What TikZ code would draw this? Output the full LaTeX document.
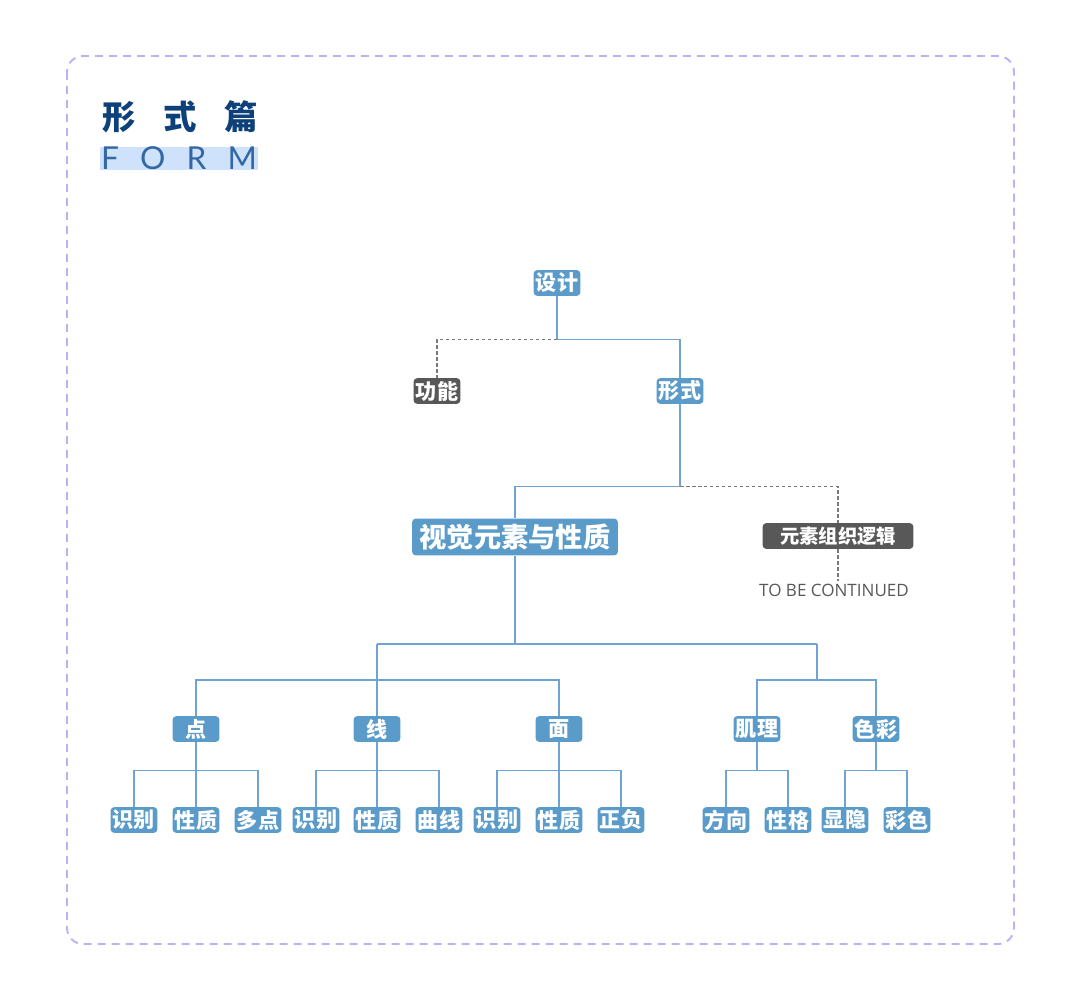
\documentclass[tikz,border=0pt]{standalone}
\usepackage{fontspec}
\newfontfamily\cjk{Noto Sans CJK SC}
\newfontfamily\lat{Open Sans}
\newfontfamily\form{Lato}
\definecolor{knoten}{RGB}{91,155,201}
\definecolor{linie}{RGB}{111,163,212}
\definecolor{grau}{RGB}{88,88,88}
\definecolor{rahmen}{RGB}{186,178,246}
\definecolor{titel}{RGB}{14,64,122}
\definecolor{formbg}{RGB}{207,226,251}
\definecolor{formtxt}{RGB}{52,104,164}
\tikzset{
	blau/.style={fill=knoten,rounded corners=0.08cm,text=white,font=\cjk\bfseries\fontsize{12}{12}\selectfont,inner sep=0pt,minimum width=0.94cm,minimum height=0.52cm},
	dunkel/.style={blau,fill=grau},
	ast/.style={draw=linie,line width=0.6pt},
	strich/.style={draw=grau!80,line width=0.6pt,dash pattern=on 0.07cm off 0.05cm}
}
\begin{document}
\begin{tikzpicture}[x=0.02cm,y=-0.02cm]
				\useasboundingbox (0,0) rectangle (1080,1000);
				% Rahmen
				\draw [rahmen,line width=1.1pt,dash pattern=on 0.16cm off 0.12cm,rounded corners=0.32cm] (67,56) rectangle (1014,944);
				% Titel
				\node [inner sep=0pt,text=titel,font=\cjk\bfseries\fontsize{19}{19}\selectfont] (titel) at (180,117) {\hbox to 3.12cm{形\hfill 式\hfill 篇}};
				\node [fill=formbg,inner sep=0pt,minimum width=3.16cm,minimum height=0.46cm,text=formtxt,font=\form\fontsize{18}{18}\selectfont] (form) at (179,158.5) {\hbox to 3.12cm{F\hfill O\hfill R\hfill M}};
				% obere Ebene
				\node [blau] (sheji) at (557,283) {设计};
				\node [dunkel] (gongneng) at (437,391) {功能};
				\node [blau] (xingshi) at (680,391) {形式};
				\node [blau,minimum width=4.12cm,minimum height=0.74cm,font=\cjk\bfseries\fontsize{15.5}{15.5}\selectfont] (shijue) at (515,537) {视觉元素与性质};
				\node [dunkel,minimum width=3.02cm,font=\cjk\bfseries\fontsize{11}{11}\selectfont] (zuzhi) at (838,536) {元素组织逻辑};
				\node [inner sep=1.5pt,text=grau,font=\lat\fontsize{9.7}{9.7}\selectfont] (weiter) at (834,590) {TO BE CONTINUED};
				\draw [ast] (sheji.south) -- ++(0,43) -| (xingshi.north);
				\draw [strich] (sheji.south) ++(0,43) -| (gongneng.north);
				\draw [ast] (xingshi.south) -- ++(0,82) -| (shijue.north);
				\draw [strich] (xingshi.south) ++(0,82) -| (zuzhi.north);
				\draw [strich] (zuzhi.south) -- (zuzhi.south |- weiter.north);
				% mittlere Ebene
				\node [blau] (dian) at (196,729) {点};
				\node [blau] (xian) at (377,729) {线};
				\node [blau] (mian) at (559,729) {面};
				\node [blau] (jili) at (757,729) {肌理};
				\node [blau] (secai) at (876,729) {色彩};
				\coordinate (links) at (377,644);
				\coordinate (rechts) at (817,644);
				\draw [ast] (shijue.south) |- (links) -- (rechts);
				\draw [ast] (shijue.south) |- (rechts);
				\draw [ast] (links) -- (xian.north);
				\draw [ast] (links) -- ++(0,36) -| (dian.north);
				\draw [ast] (links) ++(0,36) -| (mian.north);
				\draw [ast] (rechts) -- ++(0,36) -| (jili.north);
				\draw [ast] (rechts) ++(0,36) -| (secai.north);
				% untere Ebene
				\node [blau] (dian1) at (134,820) {识别};
				\node [blau] (dian2) at (196,820) {性质};
				\node [blau] (dian3) at (258,820) {多点};
				\node [blau] (xian1) at (316,820) {识别};
				\node [blau] (xian2) at (377,820) {性质};
				\node [blau] (xian3) at (439,820) {曲线};
				\node [blau] (mian1) at (497,820) {识别};
				\node [blau] (mian2) at (559,820) {性质};
				\node [blau] (mian3) at (621,820) {正负};
				\node [blau] (jili1) at (726,820) {方向};
				\node [blau] (jili2) at (788,820) {性格};
				\node [blau] (secai1) at (845,820) {显隐};
				\node [blau] (secai2) at (907,820) {彩色};
				\draw [ast] (dian.south) -- (dian2.north);
				\draw [ast] (dian.south) -- ++(0,28) -| (dian1.north);
				\draw [ast] (dian.south) ++(0,28) -| (dian3.north);
				\draw [ast] (xian.south) -- (xian2.north);
				\draw [ast] (xian.south) -- ++(0,28) -| (xian1.north);
				\draw [ast] (xian.south) ++(0,28) -| (xian3.north);
				\draw [ast] (mian.south) -- (mian2.north);
				\draw [ast] (mian.south) -- ++(0,28) -| (mian1.north);
				\draw [ast] (mian.south) ++(0,28) -| (mian3.north);
				\draw [ast] (jili.south) -- ++(0,28) -| (jili1.north);
				\draw [ast] (jili.south) ++(0,28) -| (jili2.north);
				\draw [ast] (secai.south) -- ++(0,28) -| (secai1.north);
				\draw [ast] (secai.south) ++(0,28) -| (secai2.north);
\end{tikzpicture}
\end{document}
